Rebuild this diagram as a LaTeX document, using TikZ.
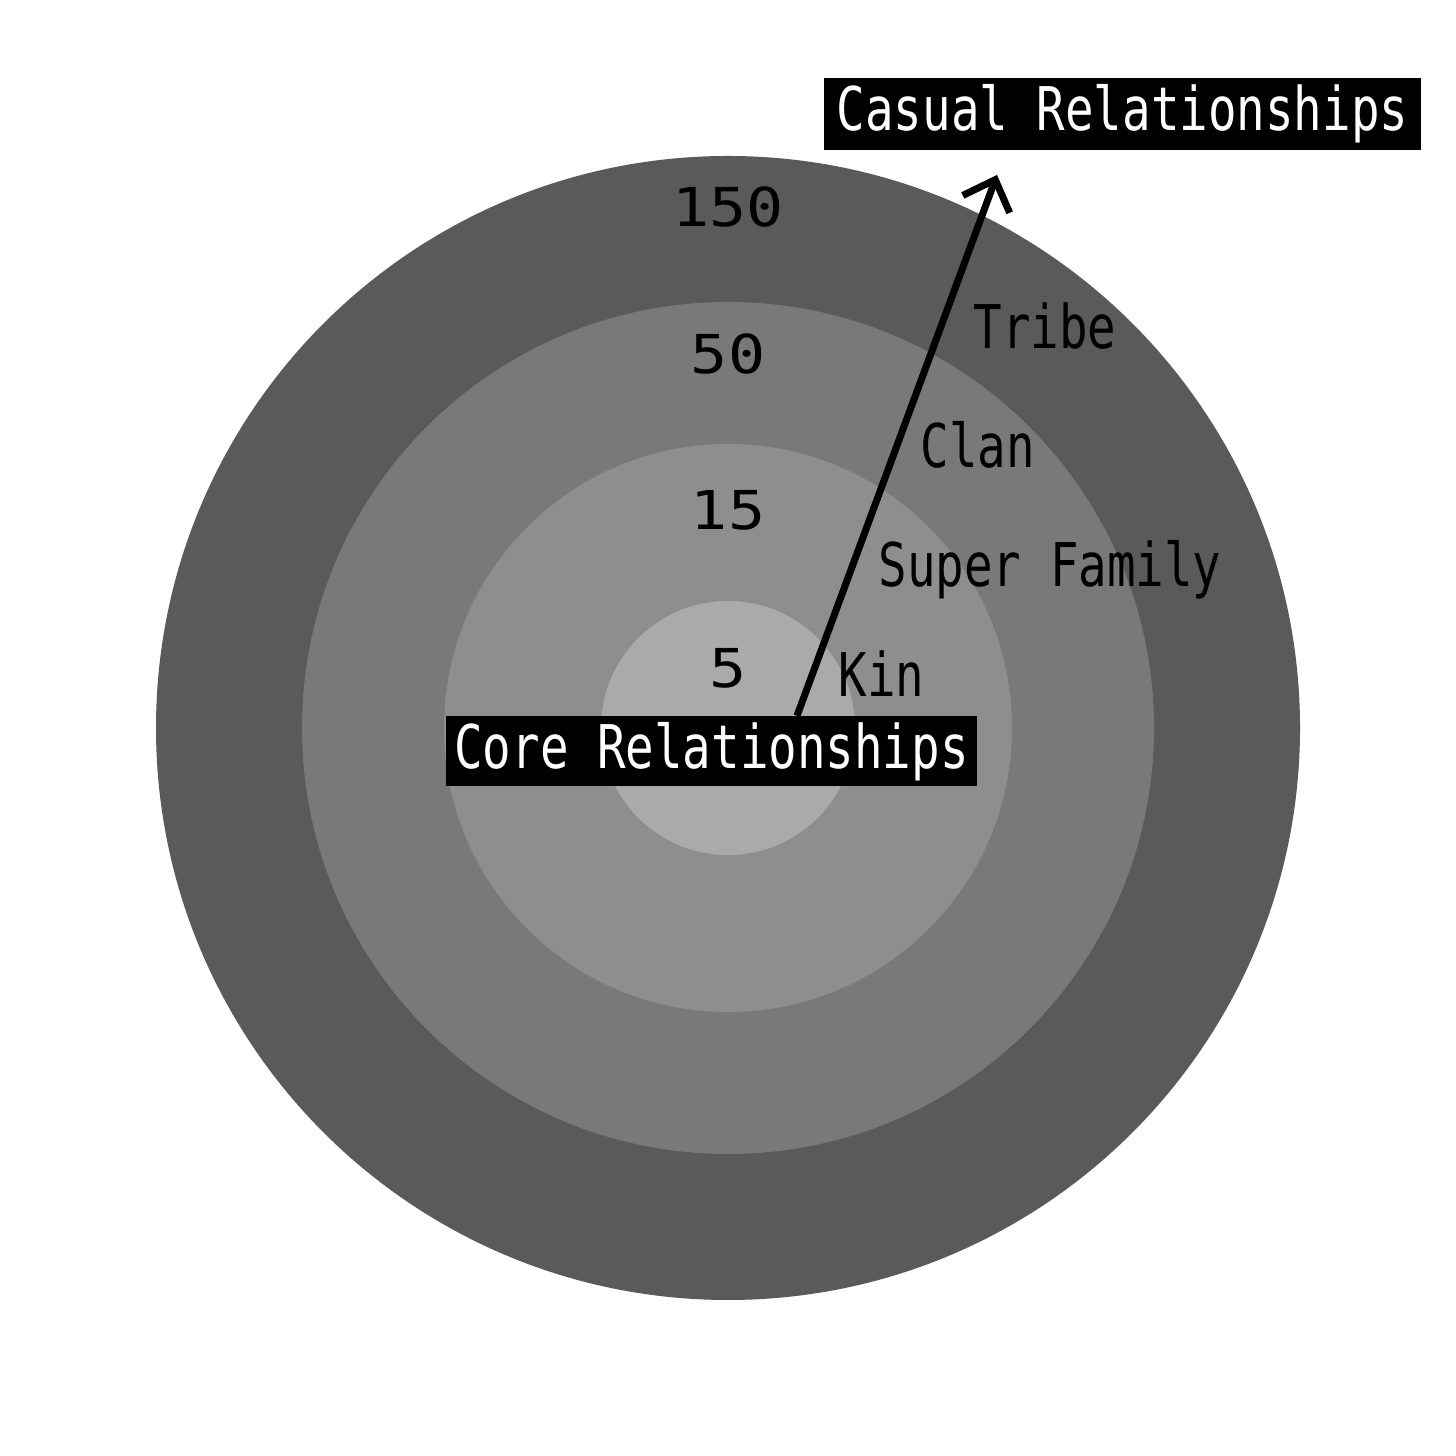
\documentclass[tikz,border=0pt]{standalone}
\usepackage{fontspec}
\usetikzlibrary{arrows.meta}

\newfontfamily\pixfont{DejaVu Sans Mono}
\newcommand{\talltext}[1]{\scalebox{1}[1.27]{#1}}
\newcommand{\widenum}[1]{\scalebox{1.3}[1.13]{#1}}

\definecolor{ringtribe}{HTML}{5B5A5A}
\definecolor{ringclan}{HTML}{7A7977}
\definecolor{ringfamily}{HTML}{8F8E8F}
\definecolor{ringkin}{HTML}{AAAAAA}

\tikzset{
  lbl/.style={font=\pixfont\fontsize{13.5pt}{16pt}\selectfont, text=black, inner sep=0pt},
  blackbox/.style={fill=black, text=white, font=\pixfont\fontsize{13.5pt}{16pt}\selectfont,
    inner xsep=0.08cm, inner ysep=0pt, minimum height=0.70cm},
}

\begin{document}
\begin{tikzpicture}

  % --- cornice ---
  \useasboundingbox (0,0) rectangle (14.56,14.56);
  \fill[white] (0,0) rectangle (14.56,14.56);
  \coordinate (centro) at (7.28,7.28);

  % --- anelli ---
  \fill[ringtribe]  (centro) circle (5.72);
  \fill[ringclan]   (centro) circle (4.26);
  \fill[ringfamily] (centro) circle (2.84);
  \fill[ringkin]    (centro) circle (1.27);

  % --- numeri ---
  \node[lbl, anchor=base] (n150) at (7.28, 12.29) {\widenum{150}};
  \node[lbl, anchor=base] (n50)  at (7.28, 10.82) {\widenum{50}};
  \node[lbl, anchor=base] (n15)  at (7.28, 9.26)  {\widenum{15}};
  \node[lbl, anchor=base] (n5)   at (7.28, 7.68)  {\widenum{5}};

  % --- nomi dei gruppi ---
  \node[lbl, anchor=base west] (tribe)  at (9.73, 11.07) {\talltext{Tribe}};
  \node[lbl, anchor=base west] (clan)   at (9.20, 9.88)  {\talltext{Clan}};
  \node[lbl, anchor=base west] (family) at (8.78, 8.69)  {\talltext{Super Family}};
  \node[lbl, anchor=base west] (kin)    at (8.38, 7.59)  {\talltext{Kin}};

  % --- riquadri ---
  \node[blackbox] (core)   at (7.115, 7.045) {\talltext{Core Relationships}};
  \node[blackbox, inner xsep=0.13cm, minimum height=0.72cm] (casual) at (11.225, 13.42) {\talltext{Casual Relationships}};

  % --- freccia verso l'esterno ---
  \coordinate (punta) at (9.97, 12.81);
  \draw[line width=2pt, -{Straight Barb[length=2.6mm, width=5mm]}]
    ([xshift=0.855cm]core.north) -- (punta);

\end{tikzpicture}
\end{document}
